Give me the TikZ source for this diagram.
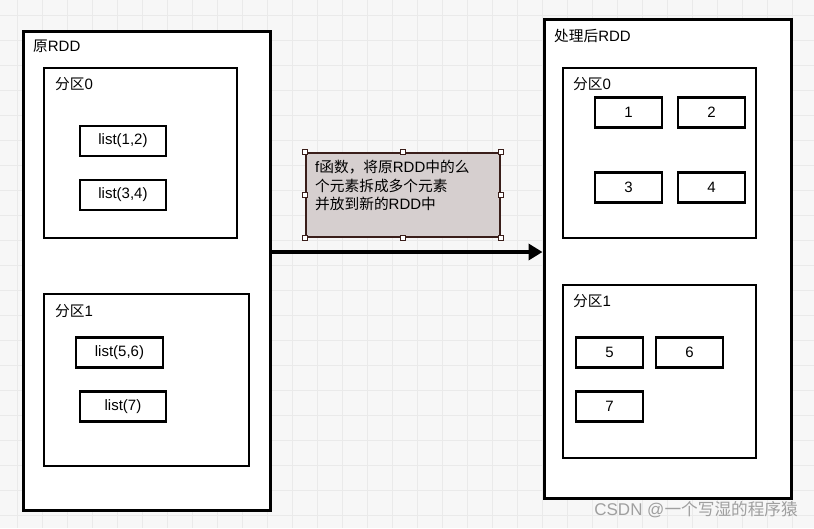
\documentclass[tikz,border=0pt]{standalone}
\usepackage{fontspec}
\setmainfont{Liberation Sans}
\newfontfamily\cjk{Noto Sans CJK SC}[Scale=0.98]
\usetikzlibrary{arrows.meta}
\definecolor{notefill}{HTML}{D6CFCF}
\definecolor{noteline}{HTML}{3A1E1A}
\definecolor{gridcol}{HTML}{EAEAEA}

\begin{document}
\begin{tikzpicture}
			[x=1pt,y=-1pt,
			 every node/.style={font=\fontsize{15}{18.5}\selectfont},
			 rdd/.style={draw,fill=white,line width=3pt,inner sep=0pt},
			 part/.style={draw,fill=white,line width=2.8pt,inner sep=0pt},
			 item/.style={draw,fill=white,line width=2.6pt,minimum height=30pt,inner sep=0pt},
			 lbl/.style={anchor=west,inner sep=0pt},
			 gridline/.style={draw=gridcol,line width=1pt},
			 flow/.style={line width=4pt,-{Triangle[length=14pt,width=16pt]}},
			 handle/.style={draw=noteline,fill=white,line width=0.8pt,minimum size=5pt,inner sep=0pt}]
				% grid background
				\fill[white!97!black] (0,0) rectangle (814,528);
				\useasboundingbox (0,0) rectangle (814,528);
				\foreach \gx in {0,...,31}
				\draw[gridline] ({17.5+25*\gx},0) -- ++(0,528);
				\foreach \gy in {0,...,20}
				\draw[gridline] (0,{15.7+25*\gy}) -- ++(814,0);
				% original RDD
				\node[rdd,minimum width=247pt,minimum height=479pt] (orig) at (146.5,270.5) {};
				\node[lbl] (origlbl) at (33,46) {{\cjk 原}RDD};
				\node[part,minimum width=193pt,minimum height=170pt] (op0) at (140.5,153) {};
				\node[lbl] (op0lbl) at (55,84) {{\cjk 分区}0};
				\node[part,minimum width=205pt,minimum height=172pt] (op1) at (146.5,380) {};
				\node[lbl] (op1lbl) at (55,311) {{\cjk 分区}1};
				\node[item,minimum width=86pt] (l12) at (123,141) {list(1,2)};
				\node[item,minimum width=86pt] (l34) at (123,195) {list(3,4)};
				\node[item,minimum width=87pt] (l56) at (119.5,352.5) {list(5,6)};
				\node[item,minimum width=86pt] (l7) at (123,406.5) {list(7)};
				% processed RDD
				\node[rdd,minimum width=247pt,minimum height=479pt] (proc) at (667.5,258.5) {};
				\node[lbl] (proclbl) at (554,36) {{\cjk 处理后}RDD};
				\node[part,minimum width=193pt,minimum height=170pt] (pp0) at (659.5,153) {};
				\node[lbl] (pp0lbl) at (573,84) {{\cjk 分区}0};
				\node[part,minimum width=193pt,minimum height=173pt] (pp1) at (659.5,371.5) {};
				\node[lbl] (pp1lbl) at (573,301) {{\cjk 分区}1};
				\foreach \n/\px/\py in {1/628.5/112.5,2/711.5/112.5,3/628.5/187.5,4/711.5/187.5,5/609.5/352.5,6/689.5/352.5,7/609.5/406.5}
				\node[item,minimum width=67pt] (n\n) at (\px,\py) {\n};
				% note on f
				\node[draw=noteline,fill=notefill,line width=2.4pt,minimum width=194pt,minimum height=84pt,inner sep=0pt] (note) at (403,195) {};
				\foreach \a [count=\i] in {north west,north,north east,east,south east,south,south west,west}
				\node[handle] (h\i) at (note.\a) {};
				\node[anchor=north west,align=left,inner sep=0pt] (notetxt) at (315,160)
				{f{\cjk 函数，将原}RDD{\cjk 中的么}\\{\cjk 个元素拆成多个元素}\\{\cjk 并放到新的}RDD{\cjk 中}};
				\draw[flow] ([yshift=18.5pt]orig.east) -- ([yshift=18.5pt]orig.east -| proc.west);
				\node[anchor=east,inner sep=0pt,text=gray!75,font=\fontsize{17}{18}\selectfont] (wm) at (798,510) {CSDN @{\cjk 一个写湿的程序猿}};
			\end{tikzpicture}
\end{document}
